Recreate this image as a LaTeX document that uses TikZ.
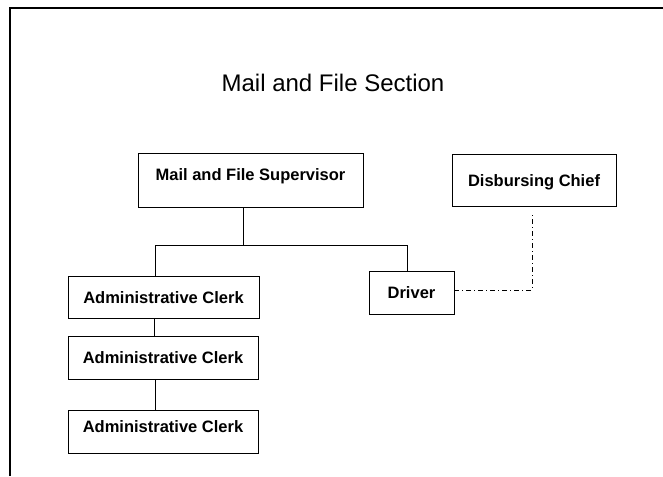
\documentclass[tikz,border=0pt]{standalone}
\usepackage{fontspec}
\setmainfont{Liberation Sans}

\begin{document}
\begin{tikzpicture}[
  x=1pt, y=-1pt,
  post/.style={rectangle, draw, line width=0.7pt, text centered, inner sep=0pt,
    text height=12pt, text depth=0pt,
    font=\fontsize{16.5}{19}\selectfont\bfseries},
  link/.style={line width=0.7pt}
  ]
  \useasboundingbox (0,0) rectangle (663,476);
  \draw[line width=1.4pt] (10,476) -- (10,8) -- (663,8);

  \node (title) at (333,83) {\fontsize{24}{28}\selectfont Mail and File Section};

  \node[post, minimum width=225pt, minimum height=54pt, text depth=12pt] (sup) at (250.5,180) {Mail and File Supervisor};
  \node[post, minimum width=164pt, minimum height=52pt] (disb) at (534,180) {Disbursing Chief};
  \node[post, minimum width=191pt, minimum height=42pt] (clerkA) at (163.5,297) {Administrative Clerk};
  \node[post, minimum width=85pt, minimum height=43pt] (driver) at (411.5,292.5) {Driver};
  \node[post, minimum width=190pt, minimum height=43pt] (clerkB) at (163,357.5) {Administrative Clerk};
  \node[post, minimum width=190pt, minimum height=43pt, text depth=10pt] (clerkC) at (163,431.5) {Administrative Clerk};

  \draw[link] ([xshift=-7.5pt]sup.south) -- ++(0,38) coordinate (bus);
  \draw[link] ([xshift=-8.5pt]clerkA.north) |- (bus) -| ([xshift=-4.5pt]driver.north);
  \draw[link] ([xshift=-9.5pt]clerkA.south) -- ([xshift=-9.5pt]clerkA.south |- clerkB.north);
  \draw[link] ([xshift=-8pt]clerkB.south) -- ([xshift=-8pt]clerkB.south |- clerkC.north);
  \draw[link, dash pattern=on 5pt off 3pt on 1pt off 3pt] ([yshift=2.5pt]driver.east) -| ([xshift=-2pt,yshift=-6pt]disb.south);
\end{tikzpicture}
\end{document}
